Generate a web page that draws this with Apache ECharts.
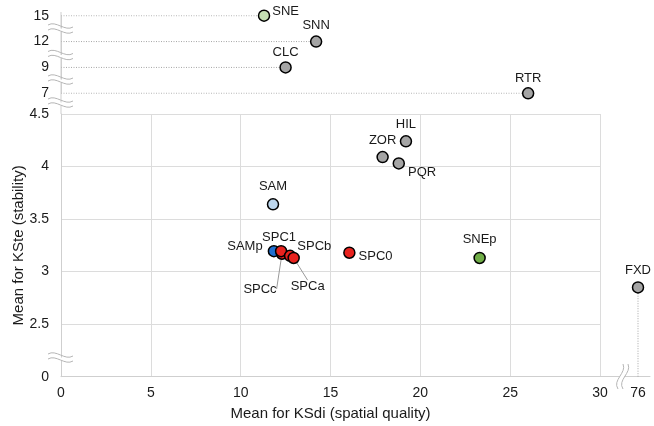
<!DOCTYPE html>
<html><head><meta charset="utf-8">
<script src="https://cdn.jsdelivr.net/npm/echarts@6/dist/echarts.min.js"></script>
<style>html,body{margin:0;padding:0;background:#fff}#c{width:654px;height:426px}</style>
</head><body><div id="c"></div>
<script>
// ---- data ----
const mainNames = ['HIL','ZOR','PQR','SAM','SAMp','SPCc','SPC1','SPCb','SPCa','SPC0','SNEp'];
const mainX     = [19.2, 17.9, 18.8, 11.8, 11.85, 12.3, 12.25, 12.75, 12.95, 16.05, 23.3];
const mainY     = [4.24, 4.09, 4.03, 3.64, 3.195, 3.17, 3.195, 3.15, 3.13, 3.18, 3.13];
const topNames  = ['SNE','SNN','CLC','RTR'];
const topX      = [11.3, 14.2, 12.5, 26.0];
const topY      = ['15','12','9','7'];
const topCats   = ['7','9','12','15'];
const farNames  = ['FXD'];
const farX      = [76];
const farY      = [2.85];
const farTicks  = [76];

// ---- styles ----
const GRAY='#a5a5a5';
const colorOf = {SNE:'#c5e0b4', SAM:'#bdd7ee', SAMp:'#1f6fcf', SPC1:'#e8221e', SPCb:'#e8221e', SPCa:'#e8221e', SPCc:'#e8221e', SPC0:'#e8221e', SNEp:'#70ad47'};
const labelOf = {
  HIL:{position:'top',distance:4},
  ZOR:{position:'top',distance:4},
  PQR:{position:'right',distance:3,offset:[0,9]},
  SAM:{position:'top',distance:5},
  SAMp:{position:'left',distance:5,offset:[0,-4.5]},
  SPC1:{position:'top',distance:1,offset:[-2,0]},
  SPCb:{position:'right',distance:1,offset:[0,-9.5]},
  SPCc:{position:'bottom',distance:5},
  SPCa:{position:'bottom',distance:5},
  SPC0:{position:'right',distance:3,offset:[0,4]},
  SNEp:{position:'top',distance:5.5},
  FXD:{position:'top',distance:4},
  SNE:{position:'right',distance:2,offset:[0,-4.5]},
  SNN:{position:'top',distance:3},
  CLC:{position:'top',distance:2},
  RTR:{position:'top',distance:2}
};
const layoutOf = {SPCc:{dx:-22,dy:17.5}, SPCa:{dx:14,dy:11}};
const FONT='Liberation Sans';
const TXT='#1a1a1a';
const LINEC='#cfcfcf';

function scatter(name, x, y, xi, yi){
  const s = {
    type:'scatter', name:name, xAxisIndex:xi, yAxisIndex:yi,
    data:[[x,y]], symbolSize:11, z:5,
    itemStyle:{color:colorOf[name]||GRAY, borderColor:'#000', borderWidth:1.5, opacity:1},
    label:Object.assign({show:true, formatter:name, fontSize:13, fontFamily:FONT, color:TXT}, labelOf[name]),
    emphasis:{disabled:true}
  };
  if (layoutOf[name]) {
    s.labelLayout = layoutOf[name];
    s.labelLine = {show:true, lineStyle:{color:'#9a9a9a', width:1}};
  }
  return s;
}
const series=[];
topNames.forEach((n,i)=>{
  series.push({type:'line', xAxisIndex:1, yAxisIndex:1, data:[[0,topY[i]],[topX[i],topY[i]]],
    showSymbol:false, symbol:'none', silent:true, z:1,
    lineStyle:{color:'#a6a6a6', width:1, type:[1,1.5]}});
});
farNames.forEach((n,i)=>{
  series.push({type:'line', xAxisIndex:2, yAxisIndex:2, data:[[farX[i],2],[farX[i],farY[i]]],
    showSymbol:false, symbol:'none', silent:true, z:1,
    lineStyle:{color:'#a6a6a6', width:1, type:[1,1.5]}});
});
mainNames.forEach((n,i)=>series.push(scatter(n, mainX[i], mainY[i], 0, 0)));
topNames.forEach((n,i)=>series.push(scatter(n, topX[i], topY[i], 1, 1)));
farNames.forEach((n,i)=>series.push(scatter(n, farX[i], farY[i], 2, 2)));

const lbl = {fontSize:14, fontFamily:FONT, color:TXT};
// break marks (decoration)
const graphics=[{type:'line', z:50, shape:{x1:61,y1:12,x2:61,y2:114}, style:{stroke:LINEC, lineWidth:1}}];
[28,54.5,79,102,357].forEach(cy=>{
  graphics.push({type:'polygon', z:60, shape:{points:[[50,cy-1],[72,cy+2],[72,cy+5],[50,cy+2]]}, style:{fill:'#fff'}});
  [0,5].forEach(o=>graphics.push({type:'bezierCurve', z:61,
    shape:{x1:48,y1:cy-3+o,cpx1:56,cpy1:cy-8+o,cpx2:65,cpy2:cy+4+o,x2:73,y2:cy-1+o},
    style:{fill:null, stroke:'#b5b5b5', lineWidth:1}}));
});
graphics.push({type:'rect', z:60, shape:{x:620,y:372,width:4,height:8}, style:{fill:'#fff'}});
[0,5].forEach(o=>graphics.push({type:'bezierCurve', z:61,
  shape:{x1:618+o,y1:389,cpx1:612+o,cpy1:380,cpx2:627+o,cpy2:373,x2:623+o,y2:364},
  style:{fill:null, stroke:'#b5b5b5', lineWidth:1}}));

const option={
  animation:false,
  grid:[
    {left:61, top:114, width:539, height:262.7, outerBoundsMode:'none', containLabel:false},
    {left:61, top:15.7, width:539, height:77.6, outerBoundsMode:'none', containLabel:false},
    {left:600, top:114, width:50, height:262.7, outerBoundsMode:'none', containLabel:false}
  ],
  xAxis:[
    {type:'value', gridIndex:0, min:0, max:30, interval:5,
     axisLine:{lineStyle:{color:LINEC}}, axisTick:{show:false},
     splitLine:{lineStyle:{color:'#dcdcdc'}},
     axisLabel:Object.assign({margin:9}, lbl),
     name:'Mean for KSdi (spatial quality)', nameLocation:'middle', nameGap:30, nameMoveOverlap:false,
     nameTextStyle:{fontSize:15, fontFamily:FONT, color:TXT}},
    {type:'value', gridIndex:1, min:0, max:30, show:false},
    {type:'value', gridIndex:2, min:75.24, max:76.24,
     axisLine:{lineStyle:{color:LINEC}}, axisTick:{show:false}, splitLine:{show:false},
     axisLabel:Object.assign({margin:9, customValues:farTicks}, lbl)}
  ],
  yAxis:[
    {type:'value', gridIndex:0, min:2, max:4.5, interval:0.5,
     axisLine:{show:true, lineStyle:{color:LINEC}}, axisTick:{show:false},
     splitLine:{lineStyle:{color:'#dcdcdc'}},
     axisLabel:Object.assign({margin:12, formatter:v=>v===2?'0':String(v)}, lbl),
     name:'Mean for KSte (stability)', nameLocation:'middle', nameGap:35, nameMoveOverlap:false,
     nameTextStyle:{fontSize:15, fontFamily:FONT, color:TXT}},
    {type:'category', gridIndex:1, data:topCats, boundaryGap:false,
     axisLine:{show:true, lineStyle:{color:LINEC}}, axisTick:{show:false},
     splitLine:{show:false}, axisLabel:Object.assign({margin:12}, lbl)},
    {type:'value', gridIndex:2, min:2, max:4.5, show:false}
  ],
  graphic:graphics,
  series:series
};
const chart=echarts.init(document.getElementById('c'),null,{renderer:'canvas'});
chart.setOption(option);
</script></body></html>
